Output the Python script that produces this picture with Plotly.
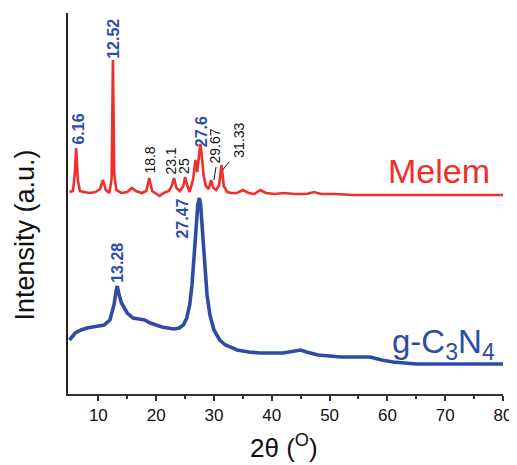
import plotly.graph_objects as go

# Melem XRD pattern (2θ in degrees, intensity in arbitrary units)
melem_x = [5.0, 5.6, 5.9, 6.16, 6.45, 6.8, 7.5, 8.5, 9.5, 10.3, 10.8, 11.3, 11.9, 12.3, 12.52, 12.75, 13.1,
           14.0, 15.0, 15.8, 16.5, 17.5, 18.3, 18.8, 19.3, 20.0, 20.6, 21.3, 22.2, 22.7, 23.1, 23.5, 24.1,
           24.7, 25.0, 25.3, 25.8, 26.4, 26.8, 27.1, 27.4, 27.65, 27.9, 28.2, 28.6, 29.1, 29.5, 29.9, 30.4,
           30.9, 31.3, 31.7, 32.3, 33.0, 34.0, 35.0, 36.0, 37.0, 38.0, 39.0, 40.5, 42.0, 44.0, 46.0, 47.3,
           48.5, 51.0, 54.0, 58.0, 62.0, 66.0, 70.0, 75.0, 80.0]
melem_y = [202, 203, 218, 246, 214, 203, 202, 201, 202, 205, 214, 204, 201, 215, 334, 220, 204,
           201, 202, 206, 203, 201, 203, 216, 203, 200, 198, 201, 203, 208, 216, 206, 203,
           208, 217, 210, 202, 215, 234, 222, 240, 250, 238, 219, 208, 205, 214, 206, 204,
           209, 229, 208, 202, 201, 201, 204, 201, 200, 204, 201, 200, 201, 200, 200, 202,
           200, 200, 199, 199, 199, 199, 199, 199, 199]

# g-C3N4 XRD pattern
gcn_x = [5.0, 6.0, 7.0, 8.0, 9.0, 10.0, 11.0, 12.0, 12.7, 13.1, 13.28, 13.6, 14.0, 15.0, 16.0, 17.0, 18.0,
         19.0, 20.0, 21.0, 22.0, 23.0, 24.0, 24.7, 25.3, 25.8, 26.2, 26.6, 26.9, 27.2, 27.47, 27.7, 28.0,
         28.4, 28.8, 29.3, 30.0, 31.0, 32.0, 34.0, 36.0, 38.0, 40.0, 42.0, 44.0, 45.0, 46.0, 48.0, 50.0,
         52.0, 55.0, 57.0, 59.0, 61.0, 63.0, 65.0, 70.0, 75.0, 80.0]
gcn_y = [54, 61, 64, 66, 67, 68, 69, 74, 89, 104, 108, 99, 91, 81, 76, 75, 74,
         71, 69, 67, 66, 65, 66, 69, 76, 89, 109, 139, 169, 189, 196, 189, 164,
         129, 99, 79, 64, 54, 49, 44, 42, 41, 41, 41, 43, 44, 42, 39, 38,
         37, 37, 37, 34, 32, 31, 30, 30, 30, 30]

# Peak labels: (text, x, y, bold)
peak_labels = [
    ("6.16", 6.4, 265, True),
    ("12.52", 12.5, 355, True),
    ("18.8", 18.87, 234, False),
    ("23.1", 22.5, 233, False),
    ("25", 24.8, 228, False),
    ("27.6", 27.8, 262, True),
    ("29.67", 30.1, 248, False),
    ("31.33", 34.3, 254, False),
    ("27.47", 24.4, 175, True),
    ("13.28", 13.19, 131, True),
]

red = "#EE2F2A"
blue = "#2E4CA4"
lbl_blue = "#2F4DA5"
font_family = "Liberation Sans, Arial"

fig = go.Figure()
fig.add_trace(go.Scatter(x=melem_x, y=melem_y, mode="lines",
                         line=dict(color=red, width=2.6), showlegend=False))
fig.add_trace(go.Scatter(x=gcn_x, y=gcn_y, mode="lines",
                         line=dict(color=blue, width=3.6), showlegend=False))

annotations = []
for text, x, y, bold in peak_labels:
    annotations.append(dict(
        x=x, y=y, xref="x", yref="y", showarrow=False, textangle=-90,
        text=f"<b>{text}</b>" if bold else text,
        font=dict(family=font_family, size=16 if bold else 14,
                  color=lbl_blue if bold else "#111111"),
        xanchor="center", yanchor="middle"))

annotations.append(dict(x=69.0, y=223, xref="x", yref="y", showarrow=False,
                        text="Melem", font=dict(family=font_family, size=34, color=red),
                        xanchor="center", yanchor="middle"))
annotations.append(dict(x=69.7, y=50, xref="x", yref="y", showarrow=False,
                        text="g-C<sub>3</sub>N<sub>4</sub>",
                        font=dict(family=font_family, size=33, color=blue),
                        xanchor="center", yanchor="middle"))
annotations.append(dict(x=0.497, y=-0.139, xref="paper", yref="paper", showarrow=False,
                        text="2θ (<sup>O</sup>)",
                        font=dict(family=font_family, size=26, color="#111111"),
                        xanchor="center", yanchor="middle"))
annotations.append(dict(x=-0.098, y=0.417, xref="paper", yref="paper", showarrow=False,
                        text="Intensity (a.u.)", textangle=-90,
                        font=dict(family=font_family, size=27, color="#111111"),
                        xanchor="center", yanchor="middle"))

shapes = [
    dict(type="line", xref="x", yref="y", x0=30.35, y0=227, x1=30.0, y1=214,
         line=dict(color="#111111", width=1)),
    dict(type="line", xref="x", yref="y", x0=32.6, y0=232, x1=31.5, y1=224,
         line=dict(color="#111111", width=1)),
]

# The page body adds an 8px margin, so the figure is sized to fit the window.
fig.update_layout(
    width=509, height=457,
    margin=dict(l=60, r=12, t=5, b=71),
    paper_bgcolor="white", plot_bgcolor="white",
    annotations=annotations, shapes=shapes,
    xaxis=dict(range=[4.75, 80], tickvals=[10, 20, 30, 40, 50, 60, 70, 80],
               showline=True, linecolor="#333333", linewidth=2,
               ticks="outside", ticklen=5, tickwidth=1.5, tickcolor="#333333",
               minor=dict(tickvals=[15, 25, 35, 45, 55, 65, 75], ticks="outside", ticklen=3,
                          tickwidth=1.5, tickcolor="#333333"),
               showgrid=False, zeroline=False,
               tickfont=dict(family=font_family, size=17, color="#111111")),
    yaxis=dict(range=[0, 381], showline=True, linecolor="#222222", linewidth=2,
               showticklabels=False, ticks="", showgrid=False, zeroline=False),
)

fig.write_html("out.html")
